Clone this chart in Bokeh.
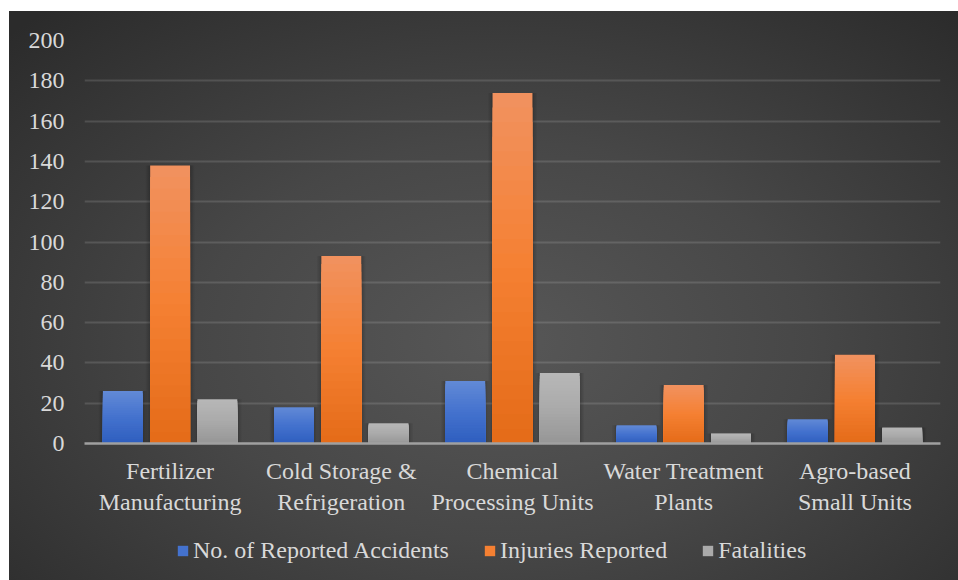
import numpy as np
from bokeh.plotting import figure
from bokeh.layouts import column
from bokeh.models import ColumnDataSource, FactorRange, Legend, LegendItem, FixedTicker, Range1d
from bokeh.transform import dodge
from bokeh.embed import file_html
from bokeh.resources import INLINE

# ---- data ----
categories = ["Fertilizer\nManufacturing", "Cold Storage &\nRefrigeration",
              "Chemical\nProcessing Units", "Water Treatment\nPlants",
              "Agro-based\nSmall Units"]
accidents = [26, 18, 31, 9, 12]
injuries = [138, 93, 174, 29, 44]
fatalities = [22, 10, 35, 5, 8]
series_names = ["No. of Reported Accidents", "Injuries Reported", "Fatalities"]
y_ticks = list(range(0, 201, 20))

FONT = "Liberation Serif"
TXT = "#d9d9d9"

stops = [
    [(98, 138, 214), (68, 114, 206), (46, 94, 190)],
    [(241, 146, 96), (245, 128, 50), (228, 107, 24)],
    [(184, 184, 184), (170, 170, 170), (150, 150, 150)],
]
offsets = [-0.276, 0.0, 0.276]
BW = 0.233

def grad_color(st, t):
    if t < 0.5:
        a, b, u = st[0], st[1], t / 0.5
    else:
        a, b, u = st[1], st[2], (t - 0.5) / 0.5
    c = [int(round(a[i] + (b[i] - a[i]) * u)) for i in range(3)]
    return "#%02x%02x%02x" % tuple(c)

p = figure(x_range=FactorRange(*categories), y_range=(0, 200),
           frame_width=856, frame_height=403,
           output_backend="svg", toolbar_location=None,
           min_border_left=75, min_border_right=18, min_border_top=29,
           min_border_bottom=90)
p.background_fill_alpha = 0
p.border_fill_alpha = 0
p.outline_line_color = None

values = [accidents, injuries, fatalities]
N = 24
for si, vals in enumerate(values):
    vals = np.array(vals, dtype=float)
    xs = dodge("x", offsets[si], range=p.x_range)
    for extra, alpha in [(0.05, 0.05), (0.034, 0.06), (0.018, 0.08)]:
        src = ColumnDataSource(dict(x=categories, top=vals))
        p.vbar(x=xs, top="top", width=BW + extra, source=src,
               fill_color="black", fill_alpha=alpha, line_color=None)
    for k in range(N):
        frac = 1 - k / N
        src = ColumnDataSource(dict(x=categories, top=vals * frac))
        col = grad_color(stops[si], (k + 0.5) / N)
        p.vbar(x=xs, top="top", width=BW, source=src,
               fill_color=col, line_color=None)

p.xgrid.grid_line_color = None
p.ygrid.grid_line_color = "#ffffff"
p.ygrid.grid_line_alpha = 0.13
p.ygrid.grid_line_width = 2
p.yaxis.ticker = FixedTicker(ticks=y_ticks)

for ax in (p.xaxis, p.yaxis):
    ax.major_label_text_font = FONT
    ax.major_label_text_font_size = "24px"
    ax.major_label_text_color = TXT
    ax.major_tick_line_color = None
    ax.minor_tick_line_color = None
    ax.major_tick_out = 0
    ax.major_tick_in = 0
p.yaxis.axis_line_color = None
p.yaxis.major_label_standoff = 20
p.xaxis.axis_line_color = "#a0a0a0"
p.xaxis.axis_line_width = 2.5
p.xaxis.major_label_standoff = 14

# ---- legend strip (separate figure below the chart) ----
lg = figure(width=949, height=47, x_range=Range1d(0, 1), y_range=Range1d(0, 1),
            output_backend="svg", toolbar_location=None,
            x_axis_location=None, y_axis_location=None,
            min_border=0)
lg.background_fill_alpha = 0
lg.border_fill_alpha = 0
lg.outline_line_color = None
lg.grid.visible = False
items = []
for si in range(3):
    # zero-height placeholder bar: only its legend swatch is visible
    r = lg.vbar(x=[0.5], top=[0], bottom=0, width=0.01,
                fill_color=grad_color(stops[si], 0.5), line_color=None)
    items.append(LegendItem(label=series_names[si], renderers=[r]))
legend = Legend(items=items, orientation="horizontal", location=(92, 16),
                label_text_font=FONT, label_text_font_size="24px",
                label_text_color=TXT, glyph_width=13, glyph_height=13,
                label_standoff=4, spacing=34, padding=2, margin=0,
                background_fill_alpha=0, border_line_color=None)
lg.add_layout(legend, "center")

layout = column(p, lg, spacing=0)
layout.margin = (11, 0, 0, 9)
layout.styles = {"background": "radial-gradient(ellipse 72% 78% at 52% 58%, #575757 0%, #474747 45%, #2b2b2b 100%)"}

open("out.html", "w").write(file_html(layout, INLINE))
